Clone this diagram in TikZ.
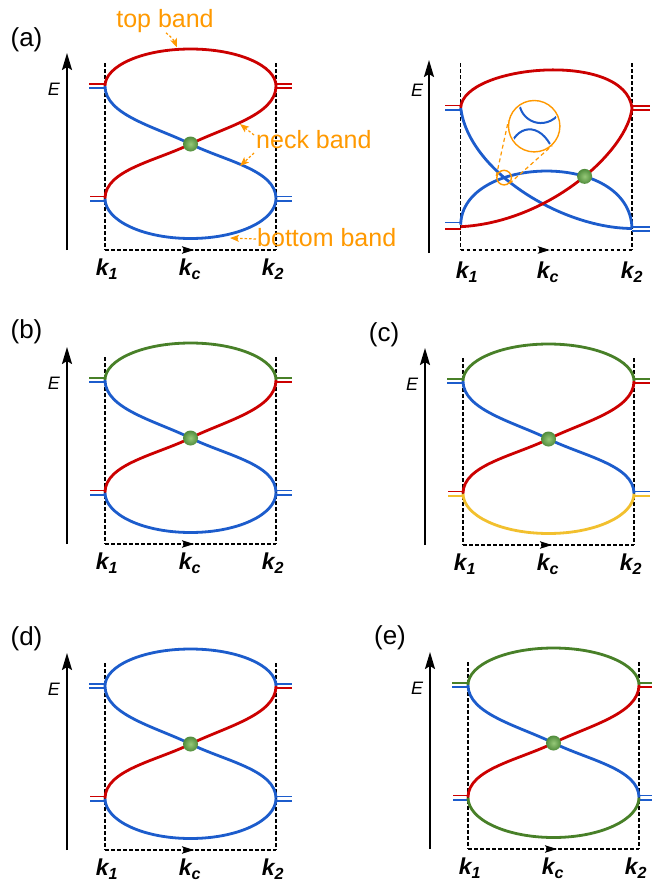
\documentclass[tikz,border=0pt]{standalone}
\usepackage{fontspec}
\setmainfont{Liberation Sans}
\usetikzlibrary{arrows.meta,decorations.markings,intersections,calc}

\definecolor{bred}{RGB}{204,0,0}
\definecolor{bblue}{RGB}{28,92,204}
\definecolor{bgreen}{RGB}{72,128,40}
\definecolor{byellow}{RGB}{242,192,46}
\definecolor{borange}{RGB}{255,153,0}
\definecolor{dotin}{RGB}{150,200,120}
\definecolor{dotout}{RGB}{80,140,60}

\tikzset{
 band/.style={line width=2.8pt},
 stub/.style={line width=1.6pt},
 guide/.style={line width=1.1pt, dash pattern=on 3.5pt off 2.5pt},
 guidearrow/.style={guide, postaction={decorate},
   decoration={markings, mark=at position 0.52 with {\arrow{Stealth[length=12pt,width=7.5pt,inset=2.5pt]}}}},
 eaxis/.style={line width=2pt, -{Stealth[length=17pt,width=10pt,inset=3pt]}},
 elabel/.style={font=\fontsize{18}{18}\selectfont\itshape, inner sep=0},
 klabel/.style={font=\fontsize{23}{23}\selectfont\bfseries\itshape, inner sep=0},
 plabel/.style={font=\fontsize{26}{26}\selectfont, inner sep=0},
 otext/.style={font=\fontsize{25}{25}\selectfont, text=borange, inner sep=0},
 oarrow/.style={draw=borange, line width=1.2pt, dash pattern=on 2.5pt off 2pt,
   -{Stealth[length=9pt,width=7pt,inset=2pt]}},
 odash/.style={draw=borange, line width=1.2pt, dash pattern=on 4pt off 3pt},
 ring/.style={circle, draw=borange, line width=1.4pt, inner sep=0},
 wdot/.style={circle, minimum size=15pt, inner sep=0, inner color=dotin, outer color=dotout},
}

% #1 dx, #2 dy, #3 top band, #4 neck UL-LR, #5 neck UR-LL, #6 bottom band, #7 bottom stub colour, #8 prefix
\newcommand{\bandpanel}[8]{%
 \begin{scope}[shift={(#1,#2)}]
  \coordinate (#8UL) at (105,86);
  \coordinate (#8UR) at (276,86);
  \coordinate (#8LL) at (105,198.5);
  \coordinate (#8LR) at (276,198.5);
  \coordinate (#8C) at (190.5,144);
  \coordinate (#8GLT) at (105,63);
  \coordinate (#8GLB) at (105,250);
  \coordinate (#8GRT) at (276,63);
  \coordinate (#8GRB) at (276,250);
  \coordinate (#8EB) at (67,250);
  \coordinate (#8ET) at (67,53);
  \draw[guide] (#8GLT) -- (#8GLB);
  \draw[guide] (#8GRT) -- (#8GRB);
  \draw[guidearrow] (#8GLB) -- (#8GRB);
  \draw[eaxis] (#8EB) -- (#8ET);
  \node[elabel] (#8E) at (54,89) {E};
  \node[klabel] (#8k1) at (107,269.5) {k\textsubscript{1}};
  \node[klabel] (#8kc) at (190,269.5) {k\textsubscript{c}};
  \node[klabel] (#8k2) at (273,269.5) {k\textsubscript{2}};
  % stubs
  \draw[stub,#3] ([yshift=2.2pt]#8UL) -- ++(-16,0);
  \draw[stub,#4] ([yshift=-2.2pt]#8UL) -- ++(-16,0);
  \draw[stub,#3] ([yshift=2.2pt]#8UR) -- ++(16,0);
  \draw[stub,#5] ([yshift=-2.2pt]#8UR) -- ++(16,0);
  \draw[stub,#5] ([yshift=2.2pt]#8LL) -- ++(-15,0);
  \draw[stub,#7] ([yshift=-2.2pt]#8LL) -- ++(-15,0);
  \draw[stub,#4] ([yshift=2.2pt]#8LR) -- ++(16,0);
  \draw[stub,#7] ([yshift=-2.2pt]#8LR) -- ++(16,0);
  % bands
  \draw[band,#3] (#8UL) .. controls (105,65.6) and (143.3,49) .. (190.5,49)
                      .. controls (237.7,49) and (276,65.6) .. (#8UR);
  \draw[band,#6] (#8LL) .. controls (105,220.6) and (143.3,238.5) .. (190.5,238.5)
                      .. controls (237.7,238.5) and (276,220.6) .. (#8LR);
  \draw[band,#4] (#8UL) .. controls (105,115) and (156,127) .. (#8C)
                      .. controls (225,161) and (276,170) .. (#8LR);
  \draw[band,#5] (#8UR) .. controls (276,115) and (225,127) .. (#8C)
                      .. controls (156,161) and (105,170) .. (#8LL);
  \node[wdot] (#8dot) at (#8C) {};
 \end{scope}}

\begin{document}
\begin{tikzpicture}[x=1pt,y=-1pt]
\useasboundingbox (0,0) rectangle (651,884);
\fill[white] (0,0) rectangle (651,884);

% ---------- (a) left ----------
\node[plabel] (la) at (26.5,39.5) {(a)};
\bandpanel{0}{0}{bred}{bblue}{bred}{bblue}{bblue}{a}
\node[otext] (tb) at (165,21) {top band};
\node[otext, anchor=west] (nb) at (256,140) {neck band};
\node[otext, anchor=west] (bb) at (257,238) {bottom band};
\coordinate (tbtip) at (177,47.5);
\coordinate (nbt1) at (254,135);
\coordinate (nbh1) at (240,124);
\coordinate (nbt2) at (254,153);
\coordinate (nbh2) at (240,166);
\coordinate (bbt) at (256,239);
\coordinate (bbh) at (230,238);
\draw[oarrow] ([xshift=1pt]tb.south) to[bend left=15] (tbtip);
\draw[oarrow] (nbt1) -- (nbh1);
\draw[oarrow] (nbt2) -- (nbh2);
\draw[oarrow] (bbt) -- (bbh);

% ---------- (a) right ----------
\coordinate (rUL) at (460.7,107.7);
\coordinate (rUR) at (632,108);
\coordinate (rLL) at (460.7,224.7);
\coordinate (rLR) at (632,228.5);
\coordinate (rLLr) at (460.7,226.7);
\coordinate (rGLT) at (460.7,63);
\coordinate (rGLB) at (460.7,250);
\coordinate (rGRT) at (632,63);
\coordinate (rGRB) at (632,250);
\coordinate (rEB) at (429,253);
\coordinate (rET) at (429,60);
\draw[guide] (rGLT) -- (rGLB);
\draw[guide] (rGRT) -- (rGRB);
\draw[guidearrow] (rGLB) -- (rGRB);
\draw[eaxis] (rEB) -- (rET);
\node[elabel] (rE) at (417,90) {E};
\node[klabel] (rk1) at (467,272) {k\textsubscript{1}};
\node[klabel] (rkc) at (548,272) {k\textsubscript{c}};
\node[klabel] (rk2) at (632,272) {k\textsubscript{2}};
% stubs
\draw[stub,bred] ([yshift=2.2pt]rUL) -- ++(-16,0);
\draw[stub,bblue] ([yshift=-2.2pt]rUL) -- ++(-16,0);
\draw[stub,bred] ([yshift=2.2pt]rUR) -- ++(18,0);
\draw[stub,bred] ([yshift=-2.2pt]rUR) -- ++(18,0);
\draw[stub,bblue] ([yshift=2.2pt]rLL) -- ++(-16,0);
\draw[stub,bred] ([yshift=-2.2pt]rLLr) -- ++(-16,0);
\draw[stub,bblue] ([yshift=1.6pt]rLR) -- ++(18,0);
\draw[stub,bblue] ([yshift=-2.2pt]rLR) -- ++(18,0);
% bands
\draw[band,bblue,name path=rn1] (rUL) .. controls (468,170) and (560,228) .. (rLR);
\draw[band,bblue,name path=rhump] (rLL) .. controls (462,155) and (630,150) .. (rLR);
\draw[band,bred,name path=rred] (rUL) .. controls (463,65) and (625,50) .. (rUR)
      .. controls (628,150) and (550,222) .. (rLLr);
\path[name intersections={of=rred and rhump, by={rX}}];
\path[name intersections={of=rn1 and rhump, sort by=rn1, name=bb}];
\node[wdot] (rdot) at (rX) {};
% inset
\node[ring, minimum size=14.6pt] (sm) at (bb-1) {};
\node[ring, minimum size=51.4pt] (big) at (534.2,126.2) {};
\draw[odash] (sm.168.6) -- (big.168.6);
\draw[odash] (sm.-47.8) -- (big.-47.8);
\begin{scope}
 \clip (big.center) circle (23.8pt);
 \draw[bblue, line width=2pt] (519,100) .. controls (519,122) and (545,132) .. (560,113);
 \draw[bblue, line width=2pt] (509,150) .. controls (515,125) and (540,120) .. (553,150);
\end{scope}

% ---------- (b) ----------
\node[plabel] (lb) at (26.5,332) {(b)};
\bandpanel{0}{294}{bgreen}{bblue}{bred}{bblue}{bblue}{b}

% ---------- (c) ----------
\node[plabel] (lc) at (384,335) {(c)};
\bandpanel{358}{295}{bgreen}{bblue}{bred}{byellow}{byellow}{c}

% ---------- (d) ----------
\node[plabel] (ld) at (26.5,639) {(d)};
\bandpanel{0}{600}{bblue}{bblue}{bred}{bblue}{bblue}{d}

% ---------- (e) ----------
\node[plabel] (le) at (390,638) {(e)};
\bandpanel{363}{599}{bgreen}{bblue}{bred}{bgreen}{bblue}{e}

\end{tikzpicture}
\end{document}
